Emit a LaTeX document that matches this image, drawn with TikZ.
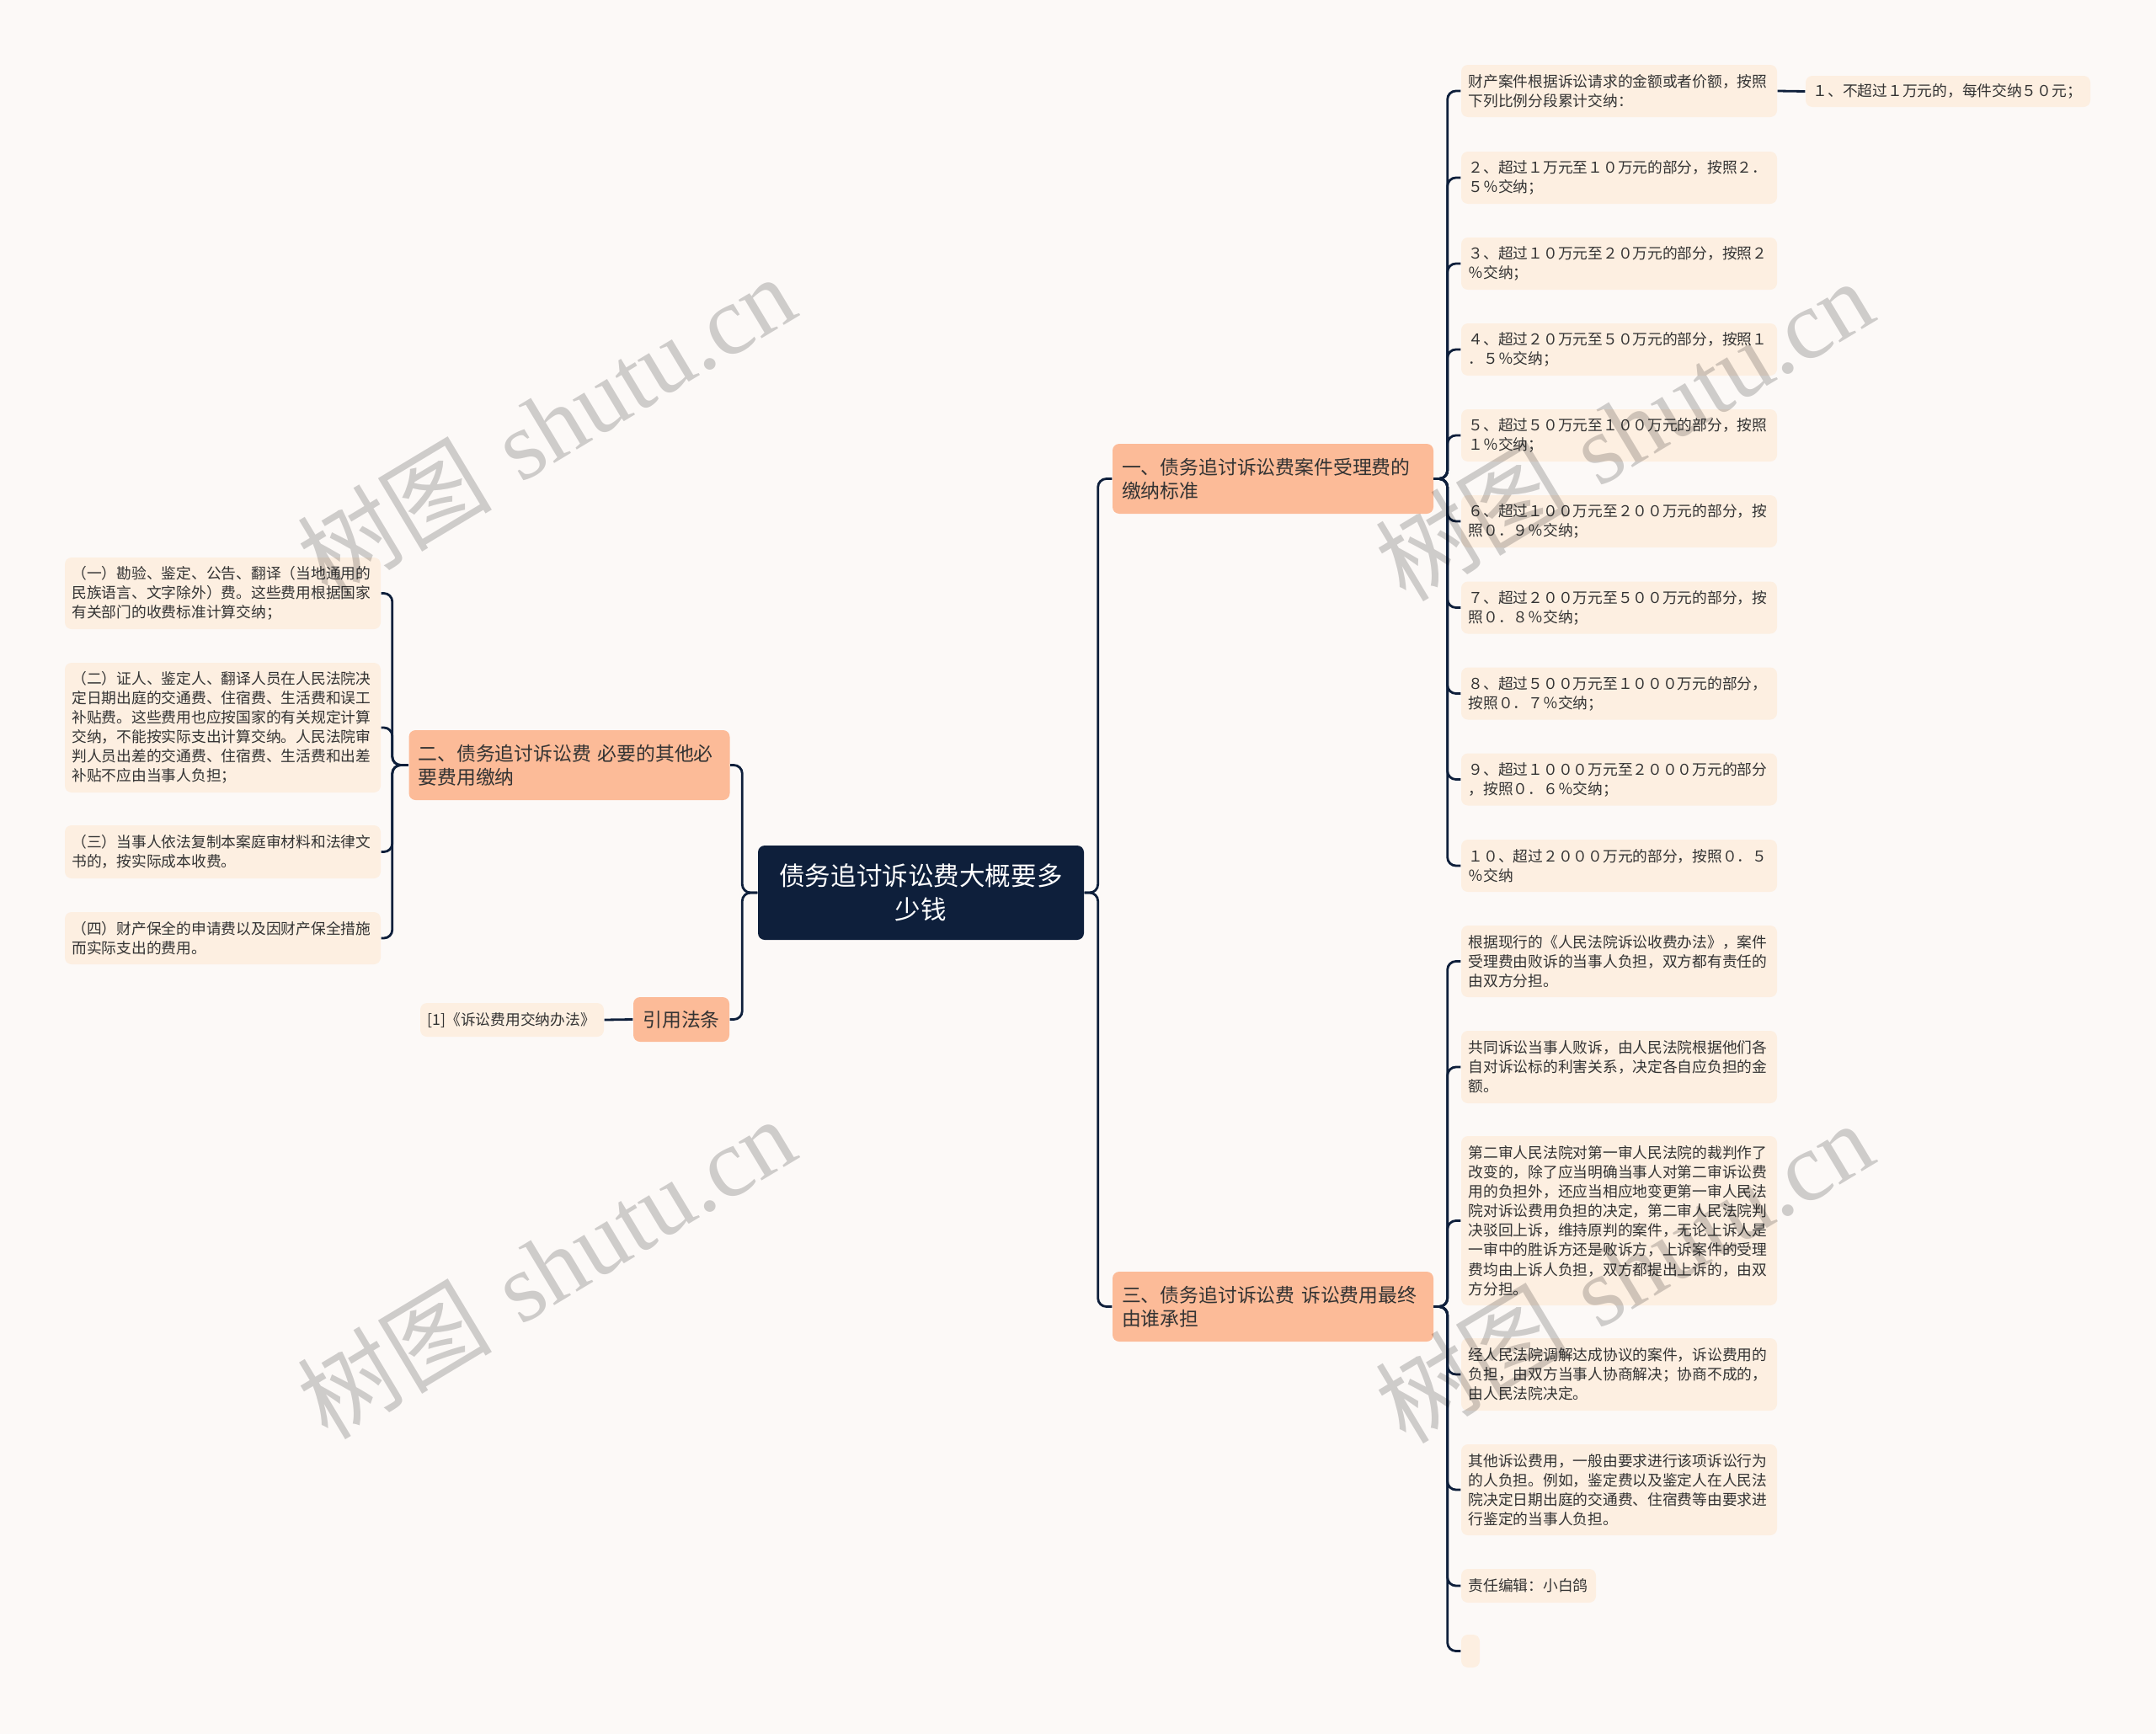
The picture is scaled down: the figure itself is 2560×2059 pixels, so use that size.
\documentclass[tikz,border=0pt]{standalone}
\usepackage{fontspec}
\newfontfamily\cjk{Noto Sans CJK SC}
\newfontfamily\wmlat{Liberation Serif}
\definecolor{bgc}{HTML}{FCF9F7}
\definecolor{leaffill}{HTML}{FDEFE1}
\definecolor{mainfill}{HTML}{FCBB98}
\definecolor{navy}{HTML}{0E1F3B}
\definecolor{txt}{HTML}{333333}
\newcommand\leaffont{\cjk\fontsize{5.05pt}{6.57pt}\selectfont}
\newcommand\brfont{\cjk\fontsize{6.5pt}{8.06pt}\selectfont}
\newcommand\rootfont{\cjk\fontsize{8.7pt}{11.4pt}\selectfont}
\tikzset{
  leafbox/.style={fill=leaffill, rounded corners=0.8mm, text=txt, font=\leaffont,
    align=left, text width=35.8mm, inner xsep=0.85mm, inner ysep=0pt},
  brbox/.style={fill=mainfill, rounded corners=0.8mm, text=txt, font=\brfont,
    align=left, text width=35.9mm, inner xsep=1.1mm, inner ysep=0pt, minimum height=8.3mm},
  refbox/.style={fill=mainfill, rounded corners=0.8mm, text=txt, font=\brfont,
    align=center, inner sep=0pt, minimum width=11.4mm, minimum height=5.3mm},
  rootbox/.style={fill=navy, rounded corners=0.8mm, text=white, font=\rootfont,
    align=center, text width=35.7mm, inner xsep=1.5mm, inner ysep=0pt, minimum height=11.2mm},
  conn/.style={draw=navy, line width=0.28mm, rounded corners=1mm},
  wm/.style={text=black, opacity=0.18, rotate=31, font=\fontsize{33pt}{38pt}\selectfont}
}
\begin{document}
\begin{tikzpicture}[x=0.1mm,y=-0.1mm]
\useasboundingbox (0,0) rectangle (2560,2059);
\fill[bgc] (0,0) rectangle (2560,2059);

% root and branches
\node[rootbox] (root) at (1093.5,1060) {债务追讨诉讼费大概要多\\少钱};
\node[brbox] (n1) at (1511.5,568.5) {一、债务追讨诉讼费案件受理费的\\缴纳标准};
\node[brbox] (n2) at (676,908.5) {二、债务追讨诉讼费~必要的其他必\\要费用缴纳};
\node[brbox] (n3) at (1511.5,1551.5) {三、债务追讨诉讼费~诉讼费用最终\\由谁承担};
\node[refbox] (ref) at (809,1210.5) {引用法条};
\node[leafbox, text width=20.1mm, minimum height=4mm] (refleaf) at (608,1211) {[1]《诉讼费用交纳办法》};

% branch 1 leaves
\node[leafbox, minimum height=6.2mm] (L1) at (1922.5,108) {财产案件根据诉讼请求的金额或者价额，按照\\下列比例分段累计交纳：};
\node[leafbox, text width=32.1mm, minimum height=3.7mm] (L1a) at (2313,108.5) {１、不超过１万元的，每件交纳５０元；};
\node[leafbox, minimum height=6.2mm] (L2) at (1922.5,211) {２、超过１万元至１０万元的部分，按照２．\\５％交纳；};
\node[leafbox, minimum height=6.2mm] (L3) at (1922.5,313) {３、超过１０万元至２０万元的部分，按照２\\％交纳；};
\node[leafbox, minimum height=6.2mm] (L4) at (1922.5,415) {４、超过２０万元至５０万元的部分，按照１\\．５％交纳；};
\node[leafbox, minimum height=6.2mm] (L5) at (1922.5,517) {５、超过５０万元至１００万元的部分，按照\\１％交纳；};
\node[leafbox, minimum height=6.2mm] (L6) at (1922.5,619) {６、超过１００万元至２００万元的部分，按\\照０．９％交纳；};
\node[leafbox, minimum height=6.2mm] (L7) at (1922.5,721.5) {７、超过２００万元至５００万元的部分，按\\照０．８％交纳；};
\node[leafbox, minimum height=6.2mm] (L8) at (1922.5,823.5) {８、超过５００万元至１０００万元的部分，\\按照０．７％交纳；};
\node[leafbox, minimum height=6.2mm] (L9) at (1922.5,925.5) {９、超过１０００万元至２０００万元的部分\\，按照０．６％交纳；};
\node[leafbox, minimum height=6.2mm] (L10) at (1922.5,1028) {１０、超过２０００万元的部分，按照０．５\\％交纳};

% branch 3 leaves
\node[leafbox, minimum height=8.5mm] (A) at (1922.5,1141.5) {根据现行的《人民法院诉讼收费办法》，案件\\受理费由败诉的当事人负担，双方都有责任的\\由双方分担。};
\node[leafbox, minimum height=8.6mm] (B) at (1922.5,1267) {共同诉讼当事人败诉，由人民法院根据他们各\\自对诉讼标的利害关系，决定各自应负担的金\\额。};
\node[leafbox, minimum height=20.1mm] (C) at (1922.5,1449.5) {第二审人民法院对第一审人民法院的裁判作了\\改变的，除了应当明确当事人对第二审诉讼费\\用的负担外，还应当相应地变更第一审人民法\\院对诉讼费用负担的决定，第二审人民法院判\\决驳回上诉，维持原判的案件，无论上诉人是\\一审中的胜诉方还是败诉方，上诉案件的受理\\费均由上诉人负担，双方都提出上诉的，由双\\方分担。};
\node[leafbox, minimum height=8.6mm] (D) at (1922.5,1632) {经人民法院调解达成协议的案件，诉讼费用的\\负担，由双方当事人协商解决；协商不成的，\\由人民法院决定。};
\node[leafbox, minimum height=10.8mm] (E) at (1922.5,1769) {其他诉讼费用，一般由要求进行该项诉讼行为\\的人负担。例如，鉴定费以及鉴定人在人民法\\院决定日期出庭的交通费、住宿费等由要求进\\行鉴定的当事人负担。};
\node[leafbox, text width=14.3mm, minimum height=4mm] (F) at (1815,1883) {责任编辑：小白鸽};
\node[leafbox, text width=0.5mm, minimum height=3.9mm] (G) at (1746,1960.5) {};

% branch 2 leaves
\node[leafbox, minimum height=8.5mm] (LA) at (264.5,704.5) {（一）勘验、鉴定、公告、翻译（当地通用的\\民族语言、文字除外）费。这些费用根据国家\\有关部门的收费标准计算交纳；};
\node[leafbox, minimum height=15.4mm] (LB) at (264.5,864) {（二）证人、鉴定人、翻译人员在人民法院决\\定日期出庭的交通费、住宿费、生活费和误工\\补贴费。这些费用也应按国家的有关规定计算\\交纳，不能按实际支出计算交纳。人民法院审\\判人员出差的交通费、住宿费、生活费和出差\\补贴不应由当事人负担；};
\node[leafbox, minimum height=6.3mm] (LC) at (264.5,1011.5) {（三）当事人依法复制本案庭审材料和法律文\\书的，按实际成本收费。};
\node[leafbox, minimum height=6.2mm] (LD) at (264.5,1114) {（四）财产保全的申请费以及因财产保全措施\\而实际支出的费用。};

% connectors
\draw[conn] (root.east) -- ++(16,0) |- (n1.west);
\draw[conn] (root.east) -- ++(16,0) |- (n3.west);
\draw[conn] (root.west) -- ++(-18,0) |- (n2.east);
\draw[conn] (root.west) -- ++(-18,0) |- (ref.east);
\foreach \t in {L1,L2,L3,L4,L5,L6,L7,L8,L9,L10}
  \draw[conn] (n1.east) -- ++(16,0) |- (\t.west);
\draw[conn] (L1.east) -- (L1a.west);
\foreach \t in {A,B,C,D,E,F,G}
  \draw[conn] (n3.east) -- ++(16,0) |- (\t.west);
\foreach \t in {LA,LB,LC,LD}
  \draw[conn] (n2.west) -- ++(-19,0) |- (\t.east);
\draw[conn] (ref.west) -- (refleaf.east);

% watermarks
\node[wm] (wm1) at (648,505) {{\cjk 树图}~{\wmlat shutu.cn}};
\node[wm] (wm2) at (648,1505) {{\cjk 树图}~{\wmlat shutu.cn}};
\node[wm] (wm3) at (1928,510) {{\cjk 树图}~{\wmlat shutu.cn}};
\node[wm] (wm4) at (1928,1510) {{\cjk 树图}~{\wmlat shutu.cn}};
\end{tikzpicture}
\end{document}
